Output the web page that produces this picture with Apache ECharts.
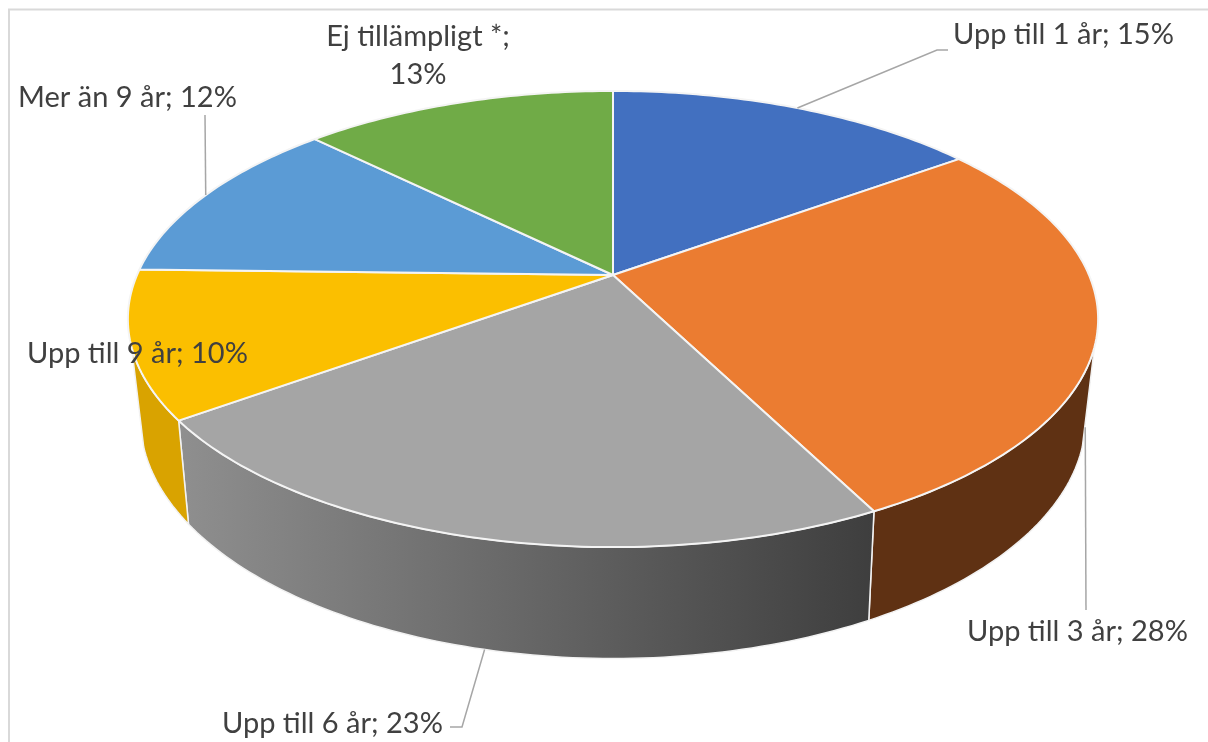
<!DOCTYPE html>
<html lang="sv">
<head>
    <meta charset="UTF-8">
    <title>Pie 3D</title>
</head>
<body style="margin: 0; background: #fff">
<div id="container" style="height: 742px; width: 1208px"></div>
<script type="text/javascript" src="https://cdn.jsdelivr.net/npm/echarts@6/dist/echarts.min.js"></script>
<script type="text/javascript">
    const categories = ['Upp till 1 år', 'Upp till 3 år', 'Upp till 6 år', 'Upp till 9 år', 'Mer än 9 år', 'Ej tillämpligt *'];
    const values = [15, 27.5, 22.5, 10.4, 12, 12.6];

    const topColors = ['#4270c0', '#eb7c31', '#a5a5a5', '#fbbf00', '#5b9bd5', '#70ab47'];
    const sideColors = [null, '#5f3113', 'grayGradient', '#d9a300', null, null];

    // the two rims of the pie, as perspective projections of a circle
    const topRim = {cx: 613, cy: 275, a: 219.6, b: 476, k: 0.193};
    const bottomRim = {cx: 613, cy: 371, a: 230, b: 463, k: 0.2};
    // the wall is only seen between these angles, the rest is behind the top
    const wallFrom = 108;
    const wallTo = 252;

    // label placement, leader line goes from the rim through the bend points
    const labelLayout = [
        {x: 953, y: 35, align: 'left', rim: topRim, bends: [[937, 50], [948, 50]]},
        {x: 967, y: 632, align: 'left', rim: bottomRim, bends: [[1086, 610]]},
        {x: 222, y: 724, align: 'left', rim: bottomRim, nudge: -0.6, bends: [[462, 727], [450, 727]]},
        {x: 27, y: 354, align: 'left', rim: null, bends: []},
        {x: 18, y: 98, align: 'left', rim: topRim, bends: [[205, 115]]},
        {x: 418, y: 56, align: 'center', rim: null, bends: [], breakLine: true}
    ];

    const total = values.reduce((s, v) => s + v, 0);

    function project(rim, deg) {
        const t = deg * Math.PI / 180;
        const X = Math.sin(t);
        const Y = Math.cos(t);
        const w = 1 + rim.k * Y;
        return [rim.cx + rim.b * X / w, rim.cy - rim.a * Y / w];
    }

    function arc(rim, from, to) {
        const pts = [];
        const n = Math.max(2, Math.ceil(Math.abs(to - from)));
        for (let i = 0; i <= n; i++) {
            pts.push(project(rim, from + (to - from) * i / n));
        }
        return pts;
    }

    function renderSlice(params, api) {
        const i = params.dataIndex;
        const start = values.slice(0, i).reduce((s, v) => s + v, 0) / total * 360;
        const end = start + values[i] / total * 360;
        const mid = (start + end) / 2;
        const children = [];

        if (sideColors[i]) {
            const fill = sideColors[i] === 'grayGradient'
                ? new echarts.graphic.LinearGradient(0, 0, 1, 0, [
                    {offset: 0, color: '#8f8f8f'},
                    {offset: 1, color: '#3e3e3e'}
                ])
                : sideColors[i];
            const a = Math.max(start, wallFrom);
            const b = Math.min(end, wallTo);
            children.push({
                type: 'polygon',
                z2: 1,
                shape: {points: arc(topRim, a, b).concat(arc(bottomRim, b, a))},
                style: {fill: fill, stroke: '#f2f2f2', lineWidth: 1.5, lineJoin: 'round'}
            });
        }

        children.push({
            type: 'polygon',
            z2: 2,
            shape: {points: [[topRim.cx, topRim.cy]].concat(arc(topRim, start, end))},
            style: {fill: topColors[i], stroke: '#f4f4f4', lineWidth: 2, lineJoin: 'round'}
        });

        const layout = labelLayout[i];
        if (layout.rim) {
            children.push({
                type: 'polyline',
                z2: 3,
                shape: {points: [project(layout.rim, mid + (layout.nudge || 0))].concat(layout.bends)},
                style: {fill: null, stroke: '#a6a6a6', lineWidth: 1.5}
            });
        }

        const pct = Math.round(values[i] / total * 100) + '%';
        children.push({
            type: 'text',
            z2: 4,
            x: layout.x,
            y: layout.y,
            style: {
                text: categories[i] + ';' + (layout.breakLine ? '\n' : ' ') + pct,
                fill: '#404040',
                font: '29px Lato',
                lineHeight: 38,
                align: layout.align,
                verticalAlign: 'middle'
            }
        });

        return {type: 'group', children: children};
    }

    const myChart = echarts.init(document.getElementById('container'));
    myChart.setOption({
        animation: false,
        graphic: [{
            type: 'rect',
            silent: true,
            shape: {x: 9, y: 9.5, width: 1400, height: 900},
            style: {fill: 'none', stroke: '#d9d9d9', lineWidth: 2}
        }],
        series: [{
            type: 'custom',
            coordinateSystem: 'none',
            renderItem: renderSlice,
            data: values
        }]
    });
</script>
</body>
</html>
